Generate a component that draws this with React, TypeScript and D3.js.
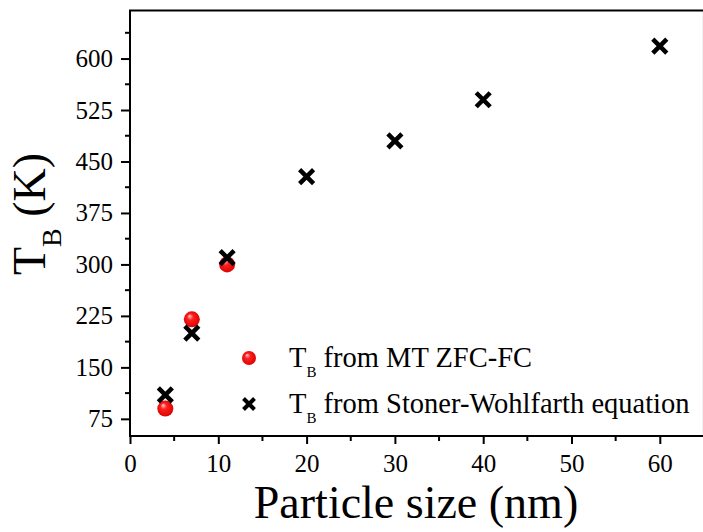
import React, { useEffect, useRef } from "react";
import * as d3 from "d3";

// particle size (nm) and blocking temperature (K)
const mtSizes = [4, 7, 11];
const mtTemps = [90, 220, 300];
const swSizes = [4, 7, 11, 20, 30, 40, 60];
const swTemps = [110, 200, 310, 428, 480, 540, 618];

const xTicks = [0, 10, 20, 30, 40, 50, 60];
const yTicks = [75, 150, 225, 300, 375, 450, 525, 600];

const legendNames = ["from MT ZFC-FC", "from Stoner-Wohlfarth equation"];

const W = 703;
const H = 532;

const App = () => {
  const svgRef = useRef<SVGSVGElement | null>(null);

  useEffect(() => {
    const svg = d3.select(svgRef.current);
    svg.selectAll("*").remove();

    const font = "'Liberation Serif', 'Times New Roman', serif";
    const left = 130;
    const top = 10.5;
    const bottom = 436;

    const x = d3.scaleLinear().domain([0, 65]).range([left, left + 65 * 8.83]);
    const y = d3.scaleLinear().domain([50, 670]).range([bottom, top]);

    // sphere look for the red markers
    const grad = svg
      .append("defs")
      .append("radialGradient")
      .attr("id", "ball")
      .attr("cx", "50%")
      .attr("cy", "50%")
      .attr("r", "55%")
      .attr("fx", "35%")
      .attr("fy", "28%");
    grad.append("stop").attr("offset", "0%").attr("stop-color", "#ffd0d0");
    grad.append("stop").attr("offset", "35%").attr("stop-color", "#ff2020");
    grad.append("stop").attr("offset", "100%").attr("stop-color", "#d80000");

    // frame
    svg
      .append("rect")
      .attr("x", left)
      .attr("y", top)
      .attr("width", x(65) - left)
      .attr("height", bottom - top)
      .attr("fill", "none")
      .attr("stroke", "#000")
      .attr("stroke-width", 2);

    // x axis
    const xMinor = d3.range(5, 65, 10);
    const gx = svg.append("g").attr("transform", `translate(0,${bottom})`);
    gx.call(
      d3.axisBottom(x).tickValues(xTicks).tickSize(8).tickPadding(10).tickFormat(d3.format("d"))
    );
    gx.call((g) => g.select(".domain").remove());
    gx.selectAll(".tick line").attr("stroke-width", 2);
    gx.selectAll(".tick text")
      .attr("font-family", font)
      .attr("font-size", 25)
      .attr("fill", "#000");
    gx.selectAll(".minor")
      .data(xMinor)
      .join("line")
      .attr("x1", (d) => x(d))
      .attr("x2", (d) => x(d))
      .attr("y1", 0)
      .attr("y2", 5)
      .attr("stroke", "#000")
      .attr("stroke-width", 2);

    // y axis
    const yMinor = d3.range(37.5, 670, 75).filter((d) => d > 50);
    const gy = svg.append("g").attr("transform", `translate(${left},0)`);
    gy.call(d3.axisLeft(y).tickValues(yTicks).tickSize(9).tickPadding(8));
    gy.call((g) => g.select(".domain").remove());
    gy.selectAll(".tick line").attr("stroke-width", 2);
    gy.selectAll(".tick text")
      .attr("font-family", font)
      .attr("font-size", 25)
      .attr("fill", "#000");
    gy.selectAll(".minor")
      .data(yMinor)
      .join("line")
      .attr("x1", 0)
      .attr("x2", -5)
      .attr("y1", (d) => y(d))
      .attr("y2", (d) => y(d))
      .attr("stroke", "#000")
      .attr("stroke-width", 2);

    // axis titles
    svg
      .append("text")
      .attr("x", 416)
      .attr("y", 518)
      .attr("text-anchor", "middle")
      .attr("font-family", font)
      .attr("font-size", 46)
      .text("Particle size (nm)");

    const yt = svg
      .append("text")
      .attr("transform", "translate(45,214) rotate(-90)")
      .attr("text-anchor", "middle")
      .attr("font-family", font)
      .attr("font-size", 46);
    yt.append("tspan").text("T");
    yt.append("tspan").attr("font-size", 28).attr("dy", 16).text("B");
    yt.append("tspan").attr("dy", -16).text(" (K)");

    const cross = (g: any, cx: number, cy: number, s: number, w: number) => {
      g.append("path")
        .attr("d", `M${cx - s},${cy - s}L${cx + s},${cy + s}M${cx - s},${cy + s}L${cx + s},${cy - s}`)
        .attr("stroke", "#000")
        .attr("stroke-width", w)
        .attr("fill", "none");
    };

    // MT ZFC-FC points
    svg
      .append("g")
      .selectAll("circle")
      .data(mtSizes)
      .join("circle")
      .attr("cx", (d) => x(d))
      .attr("cy", (_, i) => y(mtTemps[i]))
      .attr("r", 8)
      .attr("fill", "url(#ball)");

    // Stoner-Wohlfarth points
    const gs = svg.append("g");
    swSizes.forEach((d, i) => cross(gs, x(d), y(swTemps[i]), 7, 4.5));

    // legend
    const lg = svg.append("g");
    const rows = [358, 404];
    lg.append("circle").attr("cx", 249).attr("cy", rows[0]).attr("r", 7).attr("fill", "url(#ball)");
    cross(lg, 249, rows[1], 5.5, 4);
    legendNames.forEach((name, i) => {
      const t = lg
        .append("text")
        .attr("x", 289)
        .attr("y", rows[i] + 9)
        .attr("font-family", font)
        .attr("font-size", 28.5);
      t.append("tspan").text("T");
      t.append("tspan").attr("font-size", 15).attr("dy", 10).text("B");
      t.append("tspan").attr("dy", -10).text(" " + name);
    });
  }, []);

  return (
    <svg
      ref={svgRef}
      width={W}
      height={H}
      style={{ position: "absolute", left: 0, top: 0, background: "#fff", overflow: "hidden" }}
    />
  );
};

export default App;
